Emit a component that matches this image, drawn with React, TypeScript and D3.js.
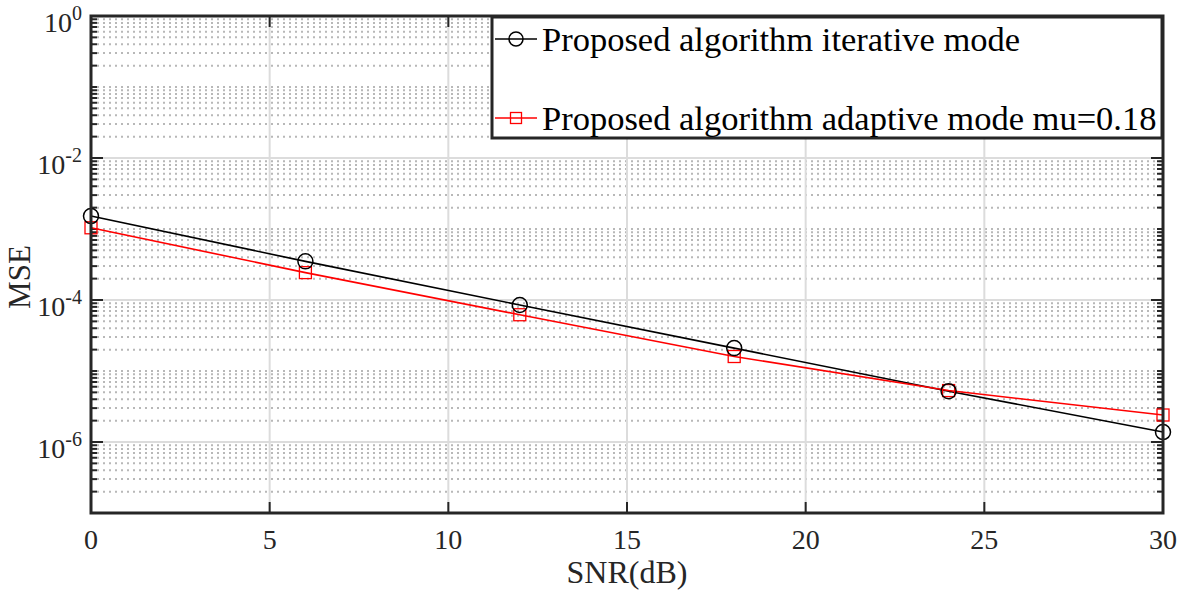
import React from 'react';
import * as d3 from 'd3';

const snr = [0, 6, 12, 18, 24, 30];
const iterativeMse = [1.52e-3, 3.5e-4, 8.5e-5, 2.1e-5, 5.2e-6, 1.38e-6];
const adaptiveMse = [1.04e-3, 2.43e-4, 6.2e-5, 1.6e-5, 5.3e-6, 2.4e-6];
const xTicks = [0, 5, 10, 15, 20, 25, 30];
const yLabelExps = [0, -2, -4, -6];
const legendLabels = ['Proposed algorithm iterative mode', 'Proposed algorithm adaptive mode mu=0.18'];

const W = 1181;
const H = 591;
const m = { left: 91, right: 1163, top: 16, bottom: 513 };
const font = '"Liberation Serif", "Times New Roman", serif';

export default function App() {
  const x = d3.scaleLinear().domain([0, 30]).range([m.left, m.right]);
  const y = d3.scaleLog().domain([1e-7, 1]).range([m.bottom, m.top]);

  // minor values: k * 10^d (odd decades are minor too)
  const minor: number[] = [];
  for (let d = -7; d < 0; d++) {
    for (let k = 1; k <= 9; k++) {
      if (k === 1 && d % 2 === 0) continue;
      minor.push(k * Math.pow(10, d));
    }
  }
  const major = yLabelExps.map(e => Math.pow(10, e));

  const line = d3.line<number>().x((_, i) => x(snr[i])).y(d => y(d));

  const legendX = 492;
  const legendTop = 17;
  const legendBottom = 138;
  const rows = [39, 118];

  return (
    <svg width={W} height={H} style={{ position: 'absolute', left: 0, top: 0, background: '#fff' }} fontFamily={font}>
      <rect x={0} y={0} width={W} height={H} fill="#fff" />
      {/* minor grid */}
      {minor.map((v, i) => (
        <line key={'mg' + i} x1={m.left} x2={m.right} y1={y(v)} y2={y(v)} stroke="#b8b8b8" strokeWidth={2} strokeDasharray="2,4" />
      ))}
      {/* major grid */}
      {major.slice(1).map((v, i) => (
        <line key={'Mg' + i} x1={m.left} x2={m.right} y1={y(v)} y2={y(v)} stroke="#dcdcdc" strokeWidth={2} />
      ))}
      {xTicks.slice(1, -1).map(t => (
        <line key={'xg' + t} x1={x(t)} x2={x(t)} y1={m.top} y2={m.bottom} stroke="#dcdcdc" strokeWidth={2} />
      ))}
      {/* ticks */}
      {minor.map((v, i) => (
        <g key={'mt' + i}>
          <line x1={m.left} x2={m.left + 6} y1={y(v)} y2={y(v)} stroke="#262626" strokeWidth={2} />
          <line x1={m.right} x2={m.right - 6} y1={y(v)} y2={y(v)} stroke="#262626" strokeWidth={2} />
        </g>
      ))}
      {major.map((v, i) => (
        <g key={'Mt' + i}>
          <line x1={m.left} x2={m.left + 12} y1={y(v)} y2={y(v)} stroke="#262626" strokeWidth={2} />
          <line x1={m.right} x2={m.right - 12} y1={y(v)} y2={y(v)} stroke="#262626" strokeWidth={2} />
        </g>
      ))}
      {xTicks.map(t => (
        <g key={'xt' + t}>
          <line x1={x(t)} x2={x(t)} y1={m.bottom} y2={m.bottom - 11} stroke="#262626" strokeWidth={2} />
          <line x1={x(t)} x2={x(t)} y1={m.top} y2={m.top + 11} stroke="#262626" strokeWidth={2} />
        </g>
      ))}
      {/* series */}
      <path d={line(iterativeMse) || ''} fill="none" stroke="#000" strokeWidth={1.6} />
      <path d={line(adaptiveMse) || ''} fill="none" stroke="#ff0000" strokeWidth={1.6} />
      {adaptiveMse.map((v, i) => (
        <rect key={'sq' + i} x={x(snr[i]) - 6} y={y(v) - 6} width={12} height={12} fill="none" stroke="#ff0000" strokeWidth={1.3} />
      ))}
      {iterativeMse.map((v, i) => (
        <circle key={'c' + i} cx={x(snr[i])} cy={y(v)} r={7.5} fill="none" stroke="#000" strokeWidth={1.5} />
      ))}
      {/* axes box */}
      <rect x={m.left} y={m.top} width={m.right - m.left} height={m.bottom - m.top} fill="none" stroke="#262626" strokeWidth={3} />
      {/* tick labels */}
      {xTicks.map(t => (
        <text key={'xl' + t} x={x(t)} y={549} textAnchor="middle" fontSize={28} fill="#262626">{t}</text>
      ))}
      {yLabelExps.map(e => (
        <text key={'yl' + e} x={82} y={y(Math.pow(10, e)) + 16} textAnchor="end" fontSize={28} fill="#262626">
          10
          <tspan dy={-12} fontSize={20}>{e}</tspan>
        </text>
      ))}
      {/* axis labels */}
      <text x={(m.left + m.right) / 2} y={583} textAnchor="middle" fontSize={32} fill="#262626">SNR(dB)</text>
      <text transform={`translate(30,277) rotate(-90)`} textAnchor="middle" fontSize={31} fill="#262626">MSE</text>
      {/* legend */}
      <rect x={legendX} y={legendTop} width={m.right - 1 - legendX} height={legendBottom - legendTop} fill="#fff" stroke="#262626" strokeWidth={3} />
      <line x1={legendX + 3} x2={legendX + 45} y1={rows[0]} y2={rows[0]} stroke="#000" strokeWidth={1.6} />
      <circle cx={legendX + 24} cy={rows[0]} r={7} fill="none" stroke="#000" strokeWidth={1.5} />
      <line x1={legendX + 3} x2={legendX + 45} y1={rows[1]} y2={rows[1]} stroke="#ff0000" strokeWidth={1.6} />
      <rect x={legendX + 18.5} y={rows[1] - 5.5} width={11} height={11} fill="none" stroke="#ff0000" strokeWidth={1.3} />
      {legendLabels.map((l, i) => (
        <text key={'lg' + i} x={542} y={rows[i] + 12} fontSize={34.5} fill="#000">{l}</text>
      ))}
    </svg>
  );
}
